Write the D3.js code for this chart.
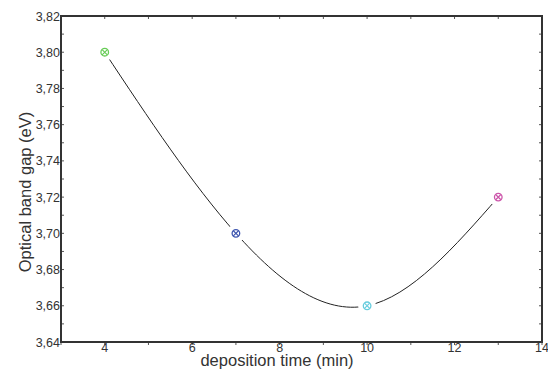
<!DOCTYPE html>
<html><head><meta charset="utf-8">
<script src="https://cdn.jsdelivr.net/npm/d3@7"></script>
<style>body{margin:0;background:#fff}svg{display:block}text{font-family:"Liberation Sans",Arial,sans-serif;fill:#333}</style>
</head><body>
<script>
const times = [4, 7, 10, 13];
const gaps = [3.80, 3.70, 3.66, 3.72];
const colors = ["#66cc55", "#3d55b0", "#66ccdd", "#cc55aa"];
const xTicks = [4, 6, 8, 10, 12, 14];
const yTicks = [3.64, 3.66, 3.68, 3.70, 3.72, 3.74, 3.76, 3.78, 3.80, 3.82];

const W = 548, H = 370;
const m = {l: 61, r: 6, t: 16, b: 28};
const svg = d3.select("body").append("svg").attr("width", W).attr("height", H);
const x = d3.scaleLinear().domain([3, 14]).range([m.l, W - m.r]);
const y = d3.scaleLinear().domain([3.64, 3.82]).range([H - m.b, m.t]);
const fmt = d => d3.format(".2f")(d).replace(".", ",");

const g = svg.append("g");
const axCol = "#333";
const yMinor = d3.range(3.64, 3.8201, 0.01);
const xMinor = d3.range(3, 14.01, 1);
g.selectAll(".ylm").data(yMinor).join("line").attr("x1", m.l).attr("x2", m.l + 3)
  .attr("y1", d => y(d)).attr("y2", d => y(d)).attr("stroke", "#555").attr("stroke-width", 1);
g.selectAll(".yrm").data(yMinor).join("line").attr("x1", W - m.r).attr("x2", W - m.r - 3)
  .attr("y1", d => y(d)).attr("y2", d => y(d)).attr("stroke", "#555").attr("stroke-width", 1);
g.selectAll(".xbm").data(xMinor).join("line").attr("x1", d => x(d)).attr("x2", d => x(d))
  .attr("y1", H - m.b).attr("y2", H - m.b + 3).attr("stroke", "#555").attr("stroke-width", 1);
g.selectAll(".xtm").data(xMinor).join("line").attr("x1", d => x(d)).attr("x2", d => x(d))
  .attr("y1", m.t).attr("y2", m.t + 3).attr("stroke", "#555").attr("stroke-width", 1);

g.append("rect").attr("x", m.l).attr("y", m.t).attr("width", W - m.r - m.l).attr("height", H - m.b - m.t)
  .attr("fill", "none").attr("stroke", axCol).attr("stroke-width", 2);

g.selectAll(".yl").data(yTicks).join("text").attr("x", m.l - 1).attr("y", d => y(d) + 4.5)
  .attr("text-anchor", "end").attr("font-size", 12.5).text(fmt);
g.selectAll(".xl").data(xTicks).join("text").attr("x", d => x(d)).attr("y", H - m.b + 9.5)
  .attr("text-anchor", "middle").attr("font-size", 12.5).text(d => d);

svg.append("text").attr("x", 277).attr("y", 365.5).attr("text-anchor", "middle")
  .attr("font-size", 16.5).text("deposition time (min)");
svg.append("text").attr("transform", `translate(31,${192}) rotate(-90)`).attr("text-anchor", "middle")
  .attr("font-size", 16.5).text("Optical band gap (eV)");

const pts = times.map((t, i) => [t, gaps[i]]);
const line = d3.line().x(d => x(d[0])).y(d => y(d[1])).curve(d3.curveNatural);
const defs = svg.append("defs");
const mask = defs.append("mask").attr("id", "mk");
mask.append("rect").attr("width", W).attr("height", H).attr("fill", "#fff");
mask.selectAll("circle").data(pts).join("circle").attr("cx", d => x(d[0])).attr("cy", d => y(d[1]))
  .attr("r", 9).attr("fill", "#000");
svg.append("path").attr("d", line(pts)).attr("fill", "none").attr("stroke", "#222")
  .attr("stroke-width", 1).attr("mask", "url(#mk)");

const mg = svg.selectAll(".mk").data(pts).join("g")
  .attr("transform", d => `translate(${x(d[0])},${y(d[1])})`);
mg.append("circle").attr("r", 3.8).attr("fill", "none").attr("stroke", (d, i) => colors[i]).attr("stroke-width", 1.3);
mg.append("path").attr("d", "M-2.6,-2.6L2.6,2.6M-2.6,2.6L2.6,-2.6").attr("stroke", (d, i) => colors[i]).attr("stroke-width", 1.2);
</script>
</body></html>
